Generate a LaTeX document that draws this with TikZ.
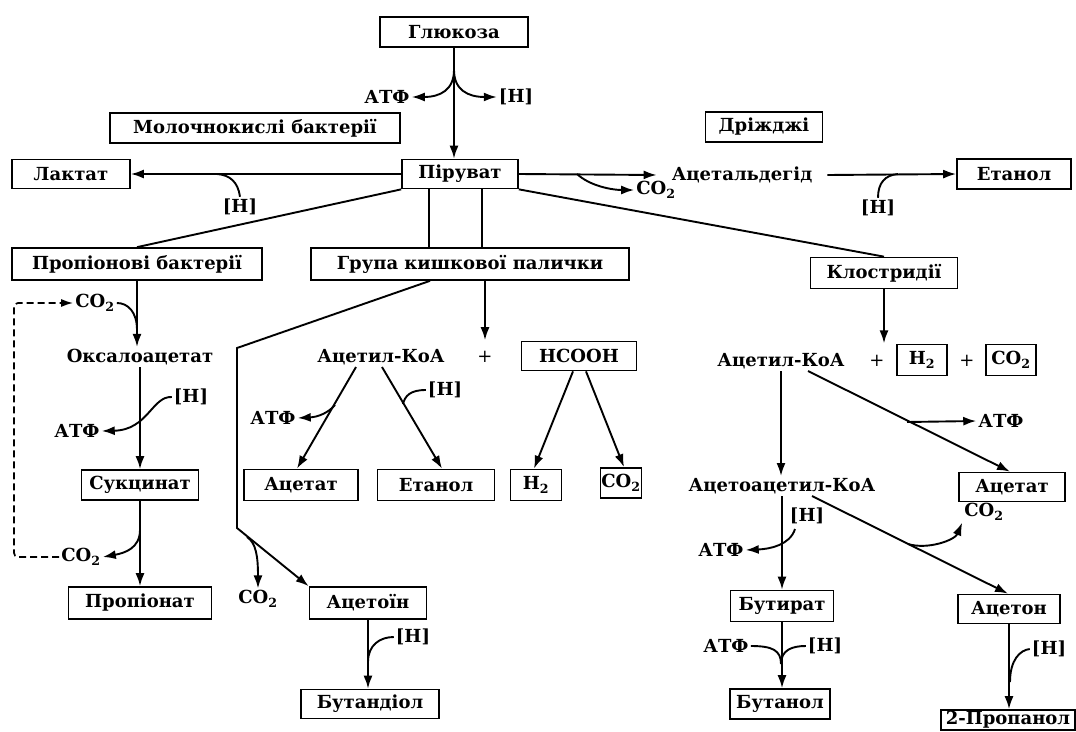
\documentclass[tikz,border=0pt]{standalone}
\usepackage{fontspec}
\setmainfont{DejaVu Serif}
\usetikzlibrary{arrows.meta}
\begin{document}
\begin{tikzpicture}[x=1pt,y=-1pt,
  every node/.style={font=\fontsize{18}{20}\selectfont\bfseries},
  bx/.style={draw, line width=1.7pt, inner sep=0pt, minimum height=30pt},
  lb/.style={inner sep=2pt},
  pls/.style={inner sep=2pt, font=\fontsize{18}{20}\selectfont\mdseries},
  arr/.style={line width=1.9pt, -{Latex[length=13pt,width=9pt]}},
  ln/.style={line width=1.9pt},
  dsh/.style={line width=1.7pt, dash pattern=on 7pt off 4pt, rounded corners=4pt, -{Latex[length=12pt,width=8pt]}},
]
\useasboundingbox (0,0) rectangle (1076,731);
% ---- top ----
\node[bx, minimum width=148pt] (glu) at (454,32) {Глюкоза};
\node[lb] (atf1) at (387,97) {АТФ};
\node[lb] (h1) at (516,97) {[H]};
\node[bx, minimum width=290pt] (mol) at (255,128) {Молочнокислі бактерії};
\node[bx, minimum width=117pt] (dri) at (764,127) {Дріжджі};
\node[bx, minimum width=116pt, minimum height=29pt] (pir) at (460,174) {Піруват};
\node[bx, minimum width=118pt, minimum height=29pt] (lak) at (71,174) {Лактат};
\node[lb] (hL) at (240,207) {[H]};
\node[lb, inner xsep=15pt] (acald) at (742,175) {Ацетальдегід};
\node[lb] (co2p) at (656,190) {CO\textsubscript{2}};
\node[lb] (hE) at (878,208) {[H]};
\node[bx, minimum width=114pt] (eta1) at (1014,174) {Етанол};
% ---- groups ----
\node[bx, minimum width=250pt, minimum height=32pt] (prop) at (137,264) {Пропіонові бактерії};
\node[bx, minimum width=318pt, minimum height=32pt] (grp) at (470,264) {Група кишкової палички};
\node[bx, minimum width=147pt, minimum height=31pt] (klo) at (884,273) {Клостридії};
% ---- left ----
\node[lb] (co2t) at (95,303) {CO\textsubscript{2}};
\node[lb] (oxa) at (140,357) {Оксалоацетат};
\node[lb] (hOx) at (191,397) {[H]};
\node[lb] (atfOx) at (77,431) {АТФ};
\node[bx, minimum width=117pt] (suk) at (140,485) {Сукцинат};
\node[lb] (co2s) at (81,557) {CO\textsubscript{2}};
\node[bx, minimum width=143pt, minimum height=32pt] (pro) at (140,603) {Пропіонат};
% ---- middle ----
\node[lb] (acoa1) at (381,357) {Ацетил-КоА};
\node[pls] (pl1) at (485,357) {+};
\node[bx, minimum width=115pt, minimum height=29pt] (hco) at (579,356) {HCOOH};
\node[lb] (hE2) at (445,390) {[H]};
\node[lb] (atfA) at (273,418) {АТФ};
\node[bx, minimum width=114pt, minimum height=31pt] (ac1) at (301,485) {Ацетат};
\node[bx, minimum width=117pt, minimum height=31pt] (et2) at (436,485) {Етанол};
\node[bx, minimum width=51pt, minimum height=31pt] (h2a) at (536,485) {H\textsubscript{2}};
\node[bx, minimum width=41pt, minimum height=30pt] (co2a) at (621,483) {CO\textsubscript{2}};
\node[lb] (co2c) at (258,599) {CO\textsubscript{2}};
\node[bx, minimum width=117pt, minimum height=32pt] (aci) at (368,603) {Ацетоїн};
\node[lb] (hBd) at (413,637) {[H]};
\node[bx, minimum width=138pt, minimum height=29pt] (btd) at (370,704) {Бутандіол};
% ---- right ----
\node[lb] (acoa2) at (781,361) {Ацетил-КоА};
\node[pls] (pl2) at (877,361) {+};
\node[bx, minimum width=50pt, minimum height=31pt] (h2b) at (922,360) {H\textsubscript{2}};
\node[pls] (pl3) at (967,361) {+};
\node[bx, minimum width=50pt, minimum height=31pt] (co2b) at (1011,360) {CO\textsubscript{2}};
\node[lb] (atfK) at (1001,421) {АТФ};
\node[bx, minimum width=106pt, minimum height=29pt] (ac2) at (1012,487) {Ацетат};
\node[lb] (aca) at (782,486) {Ацетоацетил-КоА};
\node[lb] (hAc) at (807,516) {[H]};
\node[lb] (atfAc) at (721,550) {АТФ};
\node[lb] (co2n) at (984,512) {CO\textsubscript{2}};
\node[bx, minimum width=103pt, minimum height=31pt] (btr) at (782,606) {Бутират};
\node[bx, minimum width=102pt, minimum height=29pt] (acn) at (1009,609) {Ацетон};
\node[lb] (atfB) at (726,646) {АТФ};
\node[lb] (hB) at (825,646) {[H]};
\node[lb] (hAn) at (1049,649) {[H]};
\node[bx, minimum width=100pt, minimum height=30pt] (btn) at (780,704) {Бутанол};
\node[bx, minimum width=134pt, minimum height=20pt] (p2) at (1008,720) {2-Пропанол};
% ---- connectors: top ----
\draw[arr] (glu.south) -- (glu.south |- pir.north);
\coordinate (gb) at (454,70);
\draw[arr] (gb) .. controls (454,90) and (440,97) .. (atf1.east);
\draw[arr] (gb) .. controls (454,90) and (468,97) .. (h1.west);
\draw[arr] (pir.west) -- (lak.east);
\coordinate (lj) at (217,174);
\draw[ln] (lj) .. controls (230,175) and (238,182) .. (hL.north);
\draw[arr] (pir.east) -- (acald.west);
\coordinate (cj) at (577,174);
\draw[arr] (cj) .. controls (590,186) and (612,190) .. (co2p.west);
\draw[arr] (acald.east) -- (eta1.west);
\coordinate (ej) at (898,174);
\draw[ln] (ej) .. controls (885,175) and (878,183) .. (hE.north);
\draw[ln] (pir.south west) -- (prop.north);
\draw[ln] ([xshift=-31pt]pir.south) -- ([xshift=-41pt]grp.north);
\draw[ln] ([xshift=22pt]pir.south) -- ([xshift=12pt]grp.north);
\draw[ln] (pir.south east) -- (klo.north);
% ---- left ----
\draw[arr] (prop.south) -- (prop.south |- oxa.north);
\draw[ln] (co2t.east) .. controls (128,303) and (137,312) .. (137,330);
\draw[dsh] (co2s.west) -- (14,557) -- (14,303) -- (co2t.west);
\draw[arr] (oxa.south) -- (suk.north);
\draw[arr] (hOx.west) .. controls (152,396) and (148,430) .. (atfOx.east);
\draw[arr] (suk.south) -- (pro.north);
\draw[arr] (140,530) .. controls (140,548) and (125,553) .. (co2s.east);
% ---- middle ----
\draw[arr] (grp.south -| pl1) -- ([yshift=9pt]pl1.north);
\draw[arr] ([xshift=-40pt]grp.south) -- (237,348) -- (237,528) -- (aci.north west);
\draw[arr] (247,537) .. controls (256,543) and (258,556) .. (co2c.north);
\draw[arr] (aci.south) -- (aci.south |- btd.north);
\draw[ln] (hBd.west) .. controls (380,637) and (368,645) .. (368,662);
\draw[arr] ([xshift=-25pt]acoa1.south) -- ([xshift=-4pt]ac1.north);
\draw[arr] (335,405) .. controls (328,413) and (318,417) .. (atfA.east);
\draw[arr] ([xshift=1pt]acoa1.south) -- ([xshift=6pt]et2.north);
\draw[ln] (hE2.west) .. controls (410,390) and (405,396) .. (403,404);
\draw[arr] ([xshift=-6pt]hco.south) -- ([xshift=-2pt]h2a.north);
\draw[arr] ([xshift=7pt]hco.south) -- ([xshift=3pt]co2a.north);
% ---- right ----
\draw[arr] (klo.south) -- ++(0,54);
\draw[arr] (acoa2.south) -- (acoa2.south |- aca.north);
\draw[arr] ([xshift=27pt]acoa2.south) -- ([xshift=-2pt]ac2.north);
\draw[arr] (907,422) -- (atfK.west);
\draw[arr] (aca.south) -- (aca.south |- btr.north);
\draw[arr] (795,529) .. controls (790,545) and (770,549) .. (atfAc.east);
\draw[arr] ([xshift=30pt]aca.south) -- ([xshift=-1pt]acn.north);
\draw[arr] (908,544) .. controls (928,550) and (955,540) .. (co2n.south west);
\draw[arr] (btr.south) -- (btr.south |- btn.north);
\draw[ln] (atfB.east) .. controls (772,646) and (781,650) .. (781,664);
\draw[ln] (hB.west) .. controls (792,646) and (781,650) .. (781,664);
\draw[arr] (acn.south) -- (acn.south |- p2.north);
\draw[ln] (hAn.west) .. controls (1020,650) and (1010,660) .. (1010,682);
\end{tikzpicture}
\end{document}
